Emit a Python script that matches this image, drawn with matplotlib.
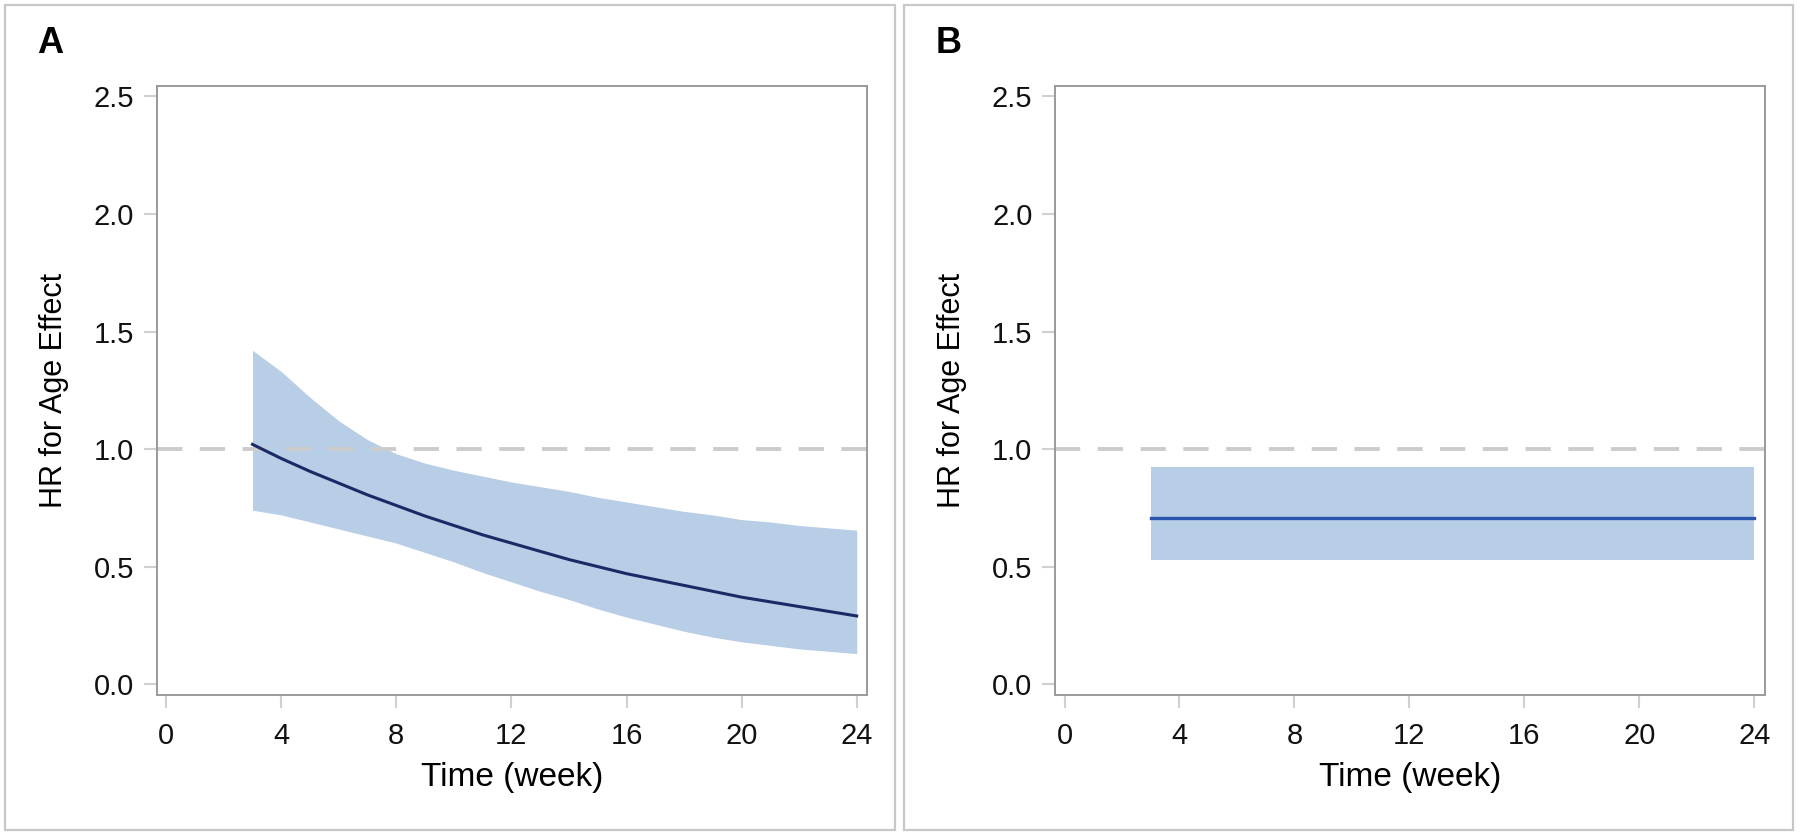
import matplotlib
matplotlib.use('Agg')
import matplotlib.pyplot as plt
from matplotlib.patches import Rectangle

plt.rcParams['font.family'] = ['Liberation Sans', 'DejaVu Sans']

weeks_a = [3, 4, 5, 6, 7, 8, 9, 10, 11, 12, 13, 14, 15, 16, 17, 18, 19, 20, 21, 22, 23, 24]
hr_a = [1.02, 0.96, 0.905, 0.855, 0.805, 0.76, 0.715, 0.675, 0.635, 0.60, 0.565,
        0.53, 0.50, 0.47, 0.445, 0.42, 0.395, 0.37, 0.35, 0.33, 0.31, 0.29]
upper_a = [1.42, 1.33, 1.22, 1.12, 1.04, 0.98, 0.94, 0.91, 0.885, 0.86, 0.84,
           0.82, 0.795, 0.775, 0.755, 0.735, 0.72, 0.70, 0.69, 0.675, 0.665, 0.655]
lower_a = [0.74, 0.72, 0.69, 0.66, 0.63, 0.60, 0.56, 0.52, 0.475, 0.435, 0.395,
           0.36, 0.32, 0.285, 0.255, 0.225, 0.20, 0.18, 0.165, 0.15, 0.14, 0.13]

# panel B: constant HR with 95% CI
weeks_b = [3, 24]
hr_b = [0.705, 0.705]
upper_b = [0.925, 0.925]
lower_b = [0.527, 0.527]

xticks = [0, 4, 8, 12, 16, 20, 24]
yticks = [0.0, 0.5, 1.0, 1.5, 2.0, 2.5]

fig = plt.figure(figsize=(18, 8.34), dpi=100)

# outer panel boxes
for x0 in [0.003, 0.502]:
    fig.patches.append(Rectangle((x0, 0.005), 0.494, 0.989, transform=fig.transFigure,
                                 fill=False, edgecolor='#c8c8c8', linewidth=1.6))

axA = fig.add_axes([0.0872, 0.167, 0.3945, 0.730])
axB = fig.add_axes([0.5863, 0.167, 0.3940, 0.730])

panels = [
    (axA, weeks_a, hr_a, lower_a, upper_a, '#1b2a66', 2.2, 'A'),
    (axB, weeks_b, hr_b, lower_b, upper_b, '#2b55ad', 2.4, 'B'),
]

for ax, wk, hr, lo, up, lc, lw, tag in panels:
    ax.fill_between(wk, lo, up, color='#b8cde6', linewidth=0, zorder=1)
    ax.axhline(1.0, color='#cccccc', linestyle=(0, (6.5, 4.5)), linewidth=2.8, zorder=2)
    ax.plot(wk, hr, color=lc, linewidth=lw, zorder=3)
    ax.set_xlim(-0.32, 24.36)
    ax.set_ylim(-0.045, 2.545)
    ax.set_xticks(xticks)
    ax.set_yticks(yticks)
    ax.set_yticklabels(['%.1f' % v for v in yticks])
    ax.tick_params(axis='both', direction='out', length=9.5, width=1.5, color='#d0d0d0',
                   labelsize=21, labelcolor='#111111')
    ax.tick_params(axis='x', pad=10)
    ax.tick_params(axis='y', pad=7)
    for s in ax.spines.values():
        s.set_color('#9a9a9a')
        s.set_linewidth(1.4)
    ax.set_xlabel('Time (week)', fontsize=24, labelpad=9)
    ax.set_ylabel('HR for Age Effect', fontsize=22, labelpad=18)
    ax.text(-0.169, 1.070, tag, transform=ax.transAxes, fontsize=26, fontweight='bold',
            ha='left', va='center')

fig.savefig('out.png', dpi=100)
